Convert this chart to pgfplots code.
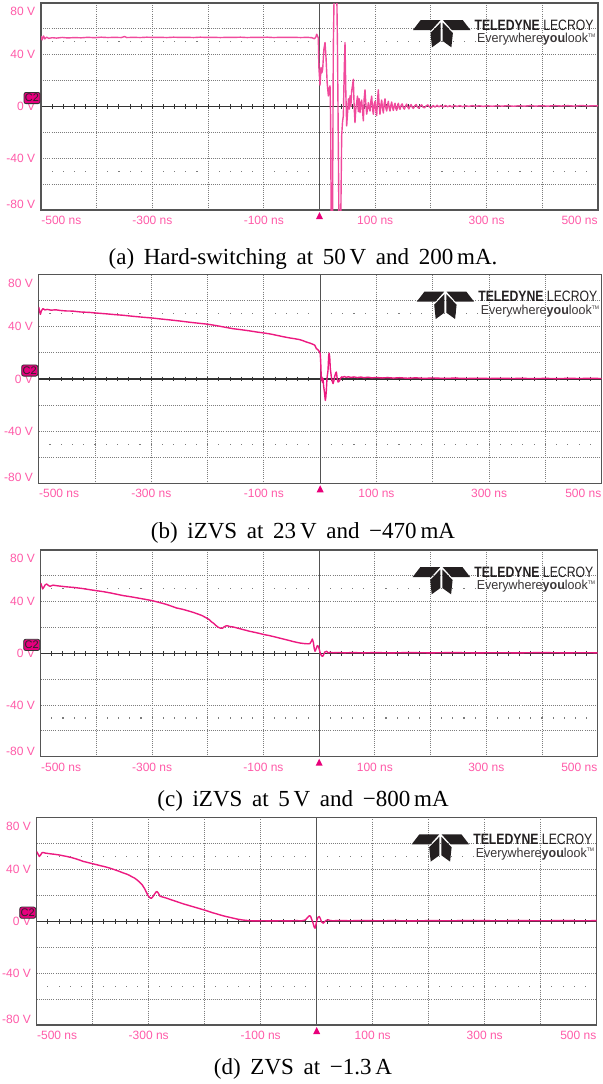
\documentclass[border=0pt]{standalone}
\usepackage{pgfplots}
\pgfplotsset{compat=1.18}
\usepackage{pgfplotstable}
\usepackage{graphicx}
\usepackage{fontspec}
\setmainfont{Liberation Serif}
\newfontfamily\scopefont{Liberation Sans}

\definecolor{trace}{HTML}{EC1A80}
\definecolor{traceA}{HTML}{F04A9C}
\definecolor{lbl}{HTML}{FF5AA8}
\definecolor{gridc}{HTML}{7C7C7C}
\definecolor{framec}{HTML}{555555}
\definecolor{ctrc}{HTML}{333333}
\definecolor{c2fill}{HTML}{E6007E}
\definecolor{logoc}{HTML}{231F20}
\definecolor{trigm}{HTML}{E8007A}

% Channel C2 captures, time in ns, voltage in V
\pgfplotstableread{
t v
-500 54.5
-498 51.5
-495.5 54.5
-493 52.3
-490 53.6
-486 52.7
-480 53.2
-472 52.9
-462 53.4
-452 53.0
-440 53.3
-428 53.1
-416 53.5
-404 53.2
-392 53.6
-380 53.3
-368 53.5
-356 53.3
-350 54.1
-346 53.3
-334 53.5
-322 53.3
-310 53.6
-298 53.4
-286 53.5
-274 53.3
-262 53.6
-250 53.4
-238 53.5
-226 53.3
-214 53.6
-202 53.4
-190 53.5
-178 53.3
-166 53.5
-154 53.4
-142 53.6
-130 53.3
-118 53.5
-106 53.4
-94 53.6
-82 53.3
-70 53.5
-58 53.4
-46 53.5
-34 53.3
-22 53.5
-14 53.2
-9 52.4
-6.5 53.8
-5 55.9
-3.3 54.2
-2.1 53
-1.6 40
-1.1 30.2
0.9 16.5
2.7 30.2
4.2 26
5.7 29
7.8 44
9.9 49.5
11.7 38
13.8 18
15.9 8.2
17.4 14
18.9 16
20 -10
21 -95
23.3 -95
24.8 45.6
26.5 95
30.8 95
32.3 45
33.8 -30.5
35 -95
38 -95
39.8 -22.7
41.3 -12
42.8 -7.2
44.5 30
45.8 49.5
47.3 10
48.8 -15
50.5 -4
52 6
53.5 -2
54.8 8.2
56.3 0
57.7 12
59.2 16
60.7 21.1
62.2 0
63.7 -12.4
65.2 -2
66.7 3.1
68.2 8
69.7 -4
71.2 6
72.7 -4.7
74.2 2
75.7 5
77.2 -3
78.7 -11.1
80.2 6
81.7 12.9
83.2 2
84.7 -5.9
86.2 -2
87.7 3
89.2 -1
90.7 -3.5
92.2 4
93.7 8
95.2 -2
96.7 -6
98.2 2
99.7 4
101.2 -3
102.7 -7
104.2 5
105.6 12.9
107.1 1
108.6 -6
110.1 1
111.6 5
113.1 -1
114.6 -5
116.1 2
117.6 6
119.1 -1
120.6 -3.5
122.1 1
123.6 4
125.1 -1
126.6 -3.5
128.1 1
129.6 3.5
131.1 -1
132.6 -3
134.1 0.5
135.6 2.5
137.1 -1.5
138.6 -3
140.1 0.5
141.6 2.5
143.1 -1
144.6 -2.2
146.5 1
148.5 2
150.5 -1
152.5 -2
154.5 0.5
156.5 1.8
158.5 -0.5
160.5 -1.8
162.5 0.5
164.5 1.5
166.5 -0.5
168.5 -1.5
171 0.5
173.5 1.5
176 -0.5
178.5 -1.3
181 0.5
183.5 1.3
186 -0.5
188.5 -1
191.5 0.5
194.5 1.3
197.5 -0.3
200.5 -0.9
204 0.8
207.5 -0.5
211 1
214.5 -0.3
218 0.8
222 -0.4
226 0.9
230 -0.2
234 0.7
238 -0.3
242 0.8
247 0
252 0.7
257 -0.1
262 0.6
268 0.1
274 0.7
280 0.2
287 0.6
294 0.1
301 0.6
310 0.2
319 0.6
328 0.3
338 0.7
348 0.2
358 0.6
368 0.3
378 0.7
388 0.3
398 0.6
410 0.3
422 0.7
434 0.4
446 0.7
458 0.3
470 0.8
482 0.4
494 0.6
500 0.5
}\trA

\pgfplotstableread{
t v
-500 55.2
-498.5 52
-497 49.6
-495 52.5
-492.3 54
-489 53
-485 53.4
-478 52.8
-470 53.1
-460 52.5
-450.8 52.2
-440 52.1
-425 51.4
-410 51.1
-397.5 50.6
-380 50
-365 49.4
-350 48.9
-332.5 48.1
-315 47.4
-298.7 46.8
-282 46
-266 45.3
-249.6 44.5
-233 43.6
-216 42.8
-199.3 42
-185 41
-170 39.8
-154.9 38.6
-140 37.8
-125 36.9
-112 36
-99.8 35.3
-88 34.5
-76 33.4
-65 32.4
-54.2 31.5
-45 30.9
-36.4 30.2
-30 29.3
-24.6 28.4
-18 27.5
-12.8 26.6
-9.8 26
-8 24.5
-6.9 23.3
-4 22.5
-1 20.7
0 19.5
0.8 14.4
1.5 6
2 -1
3 1.5
4 -2.5
5 0.5
6 -5
7.5 -10
9.1 -16.4
10 -14
10.9 -8.7
12 0
13.9 6.7
15 17
15.8 19.9
16.9 17
18 8
19.8 1.6
21 -1
22.8 -3.5
24.5 -1
25.7 2
27.5 4.5
28.7 5.4
30 1
31.7 -2.3
33 -2
34.6 -1
36 0.5
38 1.6
40.5 1.4
43 1.9
46 1.3
50 1.7
55 1.2
60 1.6
66 1.1
72 1.5
78 1.0
85 1.4
92 0.9
100 1.2
110 0.8
120 1.1
130 0.7
140 1.0
155 0.6
170 0.9
185 0.5
200 0.8
220 0.5
240 0.7
260 0.4
280 0.6
300 0.4
320 0.6
340 0.4
360 0.5
380 0.3
400 0.5
420 0.3
440 0.5
460 0.4
480 0.5
500 0.4
}\trB

\pgfplotstableread{
t v
-500 54.4
-498 52
-496.5 49.9
-494 51.5
-492 53
-489.3 53.7
-486 52.5
-483.3 51.9
-478 52.8
-470 52.3
-460 51.8
-453.4 51.5
-440 51
-425 50.2
-412 49.3
-399.5 48.5
-388 47.8
-375 46.8
-364 45.8
-351.7 44.7
-338 43.8
-325 42.8
-312 41.8
-299.6 40.8
-288 39.5
-275 38
-265 36.5
-255.9 35.1
-246 34.2
-236 33
-226 31.7
-218 30.5
-210 29.2
-202 27.3
-197 26
-193 24.3
-190 23.4
-186 21.8
-182 20.4
-178 19.6
-174 19.4
-171 20.4
-168 21.2
-165 21.4
-161 20.8
-157 20.6
-154 20.4
-147 19.6
-140 18.8
-132 17.9
-124 17
-116 16.3
-108 15.5
-98.5 14.5
-90 13.8
-80 12.8
-72 11.9
-64.4 11.1
-56 10.2
-48 9.3
-40 8.5
-34.5 8
-27 7.6
-20 7.4
-16.5 7.6
-14 9.5
-12.3 11.1
-10.5 8.5
-9 4
-7.5 1.6
-5.5 3.5
-3.4 6
-1.5 5.5
0.2 3
2 0
4 -1.8
6.2 -2.3
8 -1
10 1
13.4 1.6
16 0.3
19 0.8
25 0.5
35 0.7
45 0.4
60 0.6
80 0.4
100 0.6
130 0.4
160 0.6
200 0.4
240 0.6
280 0.4
320 0.5
360 0.4
400 0.6
440 0.4
480 0.5
500 0.4
}\trC

\pgfplotstableread{
t v
-500 53.6
-498 52
-495.3 49.8
-493 51
-491 52.5
-489.3 52.9
-484 52.4
-476 51.9
-468 51.5
-460 51
-453 50.4
-446 49.8
-438 49
-430 48
-423 47
-416.7 46
-408 45.1
-399 44.1
-392 43.4
-385 42.6
-377 41.8
-369 40.8
-362 39.8
-354 38.6
-347 37.4
-339 36.2
-334 35.2
-330 34.2
-325 33.1
-321 31.8
-318 30.7
-315 29.5
-312 28.2
-309.6 26.6
-307 24.8
-305 23
-302.5 20.8
-300.7 19.5
-298.5 18.3
-296.5 17.7
-294.6 17.8
-292 19.2
-289 21.2
-286.5 22.6
-285 22.8
-283 21.7
-281 20.2
-279.8 19.2
-275 18.6
-268 17.7
-260 16.5
-253 15.5
-245 14.3
-238 13.3
-230 12.3
-223 11.4
-215 10.4
-208 9.5
-200 8.5
-193 7.5
-186 6.5
-178.6 5.6
-171 4.6
-164 3.8
-156 3
-149 2.3
-141 1.5
-134 1
-126 0.6
-119 0.3
-110 0.2
-95 0.3
-80 0.2
-65 0.3
-50 0.2
-35 0.4
-28 0.2
-24 0.5
-20 1
-16 3
-13 4.2
-11 3.8
-9 1.5
-6.5 -1.5
-4.5 -4.5
-3 -5.4
-1.5 -3
0.5 1
2.5 3
4.7 3.6
6.5 2
8.5 -0.5
11.8 -1.6
14 -0.5
17 0.6
20.7 1
25 0.4
29.6 0.3
40 0.5
60 0.3
80 0.5
110 0.3
140 0.4
170 0.2
200 0.4
240 0.3
280 0.5
320 0.3
360 0.4
400 0.3
440 0.4
480 0.3
500 0.4
}\trD

\newcommand\capfont{\fontsize{11.5pt}{13pt}\selectfont\spaceskip=0.42em plus 0.1em minus 0.05em\relax}
\newcommand\lblfont{\scopefont\fontsize{6pt}{7pt}\selectfont}
\tikzset{scopegrid/.style={gridc, line width=0.45pt, dash pattern=on 0.5pt off 0.55pt}}

% One scope screen: #1 left, #2 right, #3 top, #4 bottom (in 0.5pt units), #5 trace table, #6 trace colour
\newcommand{\scopescreen}[6]{%
\pgfmathsetmacro\PW{(#2-#1)*0.5}%
\pgfmathsetmacro\PH{(#4-#3)*0.5}%
\pgfmathsetmacro\DX{(#2-#1)/50}%
\pgfmathsetmacro\DY{(#4-#3)/8}%
\pgfmathsetmacro\Zy{0.5*(#3+#4)}%
\pgfmathsetmacro\Pp{#3+(#4-#3)*0.1875}%
\pgfmathsetmacro\Pm{#3+(#4-#3)*0.8125}%
\pgfmathsetmacro\Cx{0.5*(#1+#2)}%
% graticule: 10 x 8 divisions, dotted rows at +-50 V, centre line with 20 ns ticks
\begin{scope}[x=0.5pt, y=-0.5pt]
  \foreach \k in {5,10,...,45}
    \draw[scopegrid] ({#1+\DX*\k},#3) -- ({#1+\DX*\k},#4);
  \foreach \k in {1,2,3,5,6,7}
    \draw[scopegrid] (#1,{#3+\DY*\k}) -- (#2,{#3+\DY*\k});
  \foreach \k in {1,...,49} {
    \fill[gridc] ({#1+\DX*\k-0.55},{\Pp-0.55}) rectangle ++(1.1,1.1);
    \fill[gridc] ({#1+\DX*\k-0.55},{\Pm-0.55}) rectangle ++(1.1,1.1);
  }
  \draw[ctrc, line width=0.55pt] (#1,\Zy) -- (#2,\Zy);
  \foreach \k in {1,...,49}
    \draw[ctrc, line width=0.5pt] ({#1+\DX*\k},{\Zy-2.4}) -- ({#1+\DX*\k},{\Zy+2.4});
  \draw[ctrc!85, line width=0.6pt] (\Cx,#3) -- (\Cx,#4);
\end{scope}
\begin{axis}[
  at={({#1*0.5pt},{-#4*0.5pt})}, anchor=south west,
  scale only axis, width=\PW pt, height=\PH pt,
  xmin=-500, xmax=500, ymin=-80, ymax=80,
  axis line style={framec, line width=0.6pt},
  xtick=\empty, ytick=\empty,
]
\addplot[#6, line width=0.7pt, line join=round, no markers] table[x=t,y=v] {#5};
\end{axis}
\begin{scope}[x=0.5pt, y=-0.5pt, every node/.style={inner sep=0pt, font=\lblfont, text=lbl}]
  \node[anchor=east] at ({#1-5.5},{#3+8.7}) {80 V};
  \node[anchor=east] at ({#1-5.5},{#3+2*\DY}) {40 V};
  \node[anchor=east] at ({#1-5.5},\Zy) {0 V};
  \node[anchor=east] at ({#1-5.5},{#3+6*\DY}) {-40 V};
  \node[anchor=east] at ({#1-5.5},{#4-5.5}) {-80 V};
  \node[anchor=west] at ({#1},{#4+10.5}) {-500 ns};
  \node at ({#1+10*\DX},{#4+10.5}) {-300 ns};
  \node at ({#1+20*\DX},{#4+10.5}) {-100 ns};
  \node at ({#1+30*\DX},{#4+10.5}) {100 ns};
  \node at ({#1+40*\DX},{#4+10.5}) {300 ns};
  \node[anchor=east] at ({#2},{#4+10.5}) {500 ns};
  % channel badge
  \node[draw=ctrc, line width=0.4pt, fill=c2fill, rounded corners=1pt,
        minimum width=8pt, minimum height=5.6pt, text=black!85,
        font=\scopefont\fontsize{5.5pt}{6pt}\selectfont]
        at ({#1-9},{\Zy-8.5}) {C2};
  % trigger marker
  \fill[trigm] ({\Cx-3.5},{#4+9}) -- ({\Cx+3.5},{#4+9}) -- (\Cx,{#4+2}) -- cycle;
\end{scope}
% logo: two wings and two blades, plus the wordmark
\begin{scope}[shift={({#2*0.5pt},{-#3*0.5pt})}, x=0.5pt, y=-0.5pt]
  \fill[logoc] (-185,27) -- (-177.3,17) -- (-157.5,17) -- (-166.5,27) -- cycle;
  \fill[logoc] (-167.5,30) -- (-157.3,19.5) -- (-157.3,38) -- (-166,44.3) -- cycle;
  \fill[logoc] (-127.6,27) -- (-135.3,17) -- (-155.1,17) -- (-146.1,27) -- cycle;
  \fill[logoc] (-145.1,30) -- (-155.3,19.5) -- (-155.3,38) -- (-146.6,44.3) -- cycle;
  \node[anchor=base east, inner sep=0, text=logoc] at (-4,27)
    {\scalebox{0.816}[1]{\scopefont\fontsize{7.5pt}{8pt}\selectfont\bfseries TELEDYNE\mdseries\ LECROY}};
  \node[anchor=base west, inner sep=0, text=logoc!90] at (-121.3,39.7)
    {\scalebox{0.96}[1]{\scopefont\fontsize{6.5pt}{7pt}\selectfont Everywhere\textbf{you}look\raisebox{0.4em}{\fontsize{2.6pt}{3pt}\selectfont TM}}};
\end{scope}
}

\begin{document}
\begin{tikzpicture}
\useasboundingbox (0,0) rectangle (301.5pt,-542pt);
\scopescreen{41}{598}{3}{210}{\trA}{traceA}
\scopescreen{38.7}{601.7}{274.7}{483.3}{\trB}{trace}
\scopescreen{40.7}{597.7}{550}{756.7}{\trC}{trace}
\scopescreen{36.7}{596.7}{817.3}{1025}{\trD}{trace}
\begin{scope}[x=0.5pt, y=-0.5pt, every node/.style={inner sep=0pt, font=\capfont, anchor=base}]
  \node at (303,264.3) {(a) Hard-switching at 50\,V and 200\,mA.};
  \node at (303,538) {(b) iZVS at 23\,V and −470\,mA};
  \node at (303,806) {(c) iZVS at 5\,V and −800\,mA};
  \node at (303,1074) {(d) ZVS at −1.3\,A};
\end{scope}
\end{tikzpicture}
\end{document}
